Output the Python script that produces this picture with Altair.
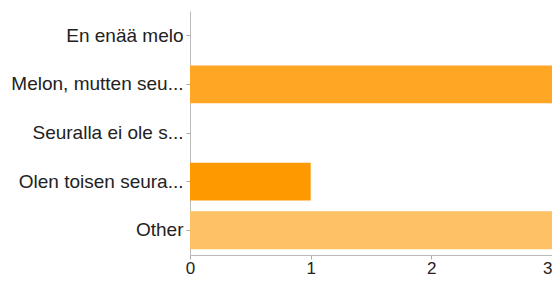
import altair as alt
import pandas as pd

categories = ["En enää melo", "Melon, mutten seu...", "Seuralla ei ole s...", "Olen toisen seura...", "Other"]
values = [0, 3, 0, 1, 3]
colors = ["#ffb74d", "#ffa624", "#ffb74d", "#ff9900", "#ffc166"]
x_ticks = [0, 1, 2, 3]

df = pd.DataFrame({"cat": categories, "val": values, "color": colors})

chart = alt.Chart(df).mark_bar().encode(
    y=alt.Y("cat:N", sort=categories, title=None,
            scale=alt.Scale(paddingInner=0.22, paddingOuter=0.12),
            axis=alt.Axis(labelFont="Liberation Sans", labelFontSize=19, labelColor="#222",
                          tickSize=4, tickColor="#aaa", domainColor="#bbb", labelPadding=3,
                          labelLimit=200)),
    x=alt.X("val:Q", title=None, scale=alt.Scale(domain=[0, 3], nice=False),
            axis=alt.Axis(values=x_ticks, format="d", grid=False, labelFont="Liberation Sans",
                          labelFontSize=17, labelColor="#222", tickSize=4, tickColor="#aaa",
                          domainColor="#bbb", labelPadding=1, labelFlush=False,
                          labelAlign=alt.expr("datum.value == 3 ? 'right' : 'center'"))),
    color=alt.Color("color:N", scale=None),
).properties(
    width=362, height=244,
    autosize=alt.AutoSizeParams(type="none"),
    padding={"left": 182, "top": 3, "right": 0, "bottom": 21},
).configure_view(stroke=None)

chart.save("out.html", embed_options={"renderer": "svg", "actions": False})
